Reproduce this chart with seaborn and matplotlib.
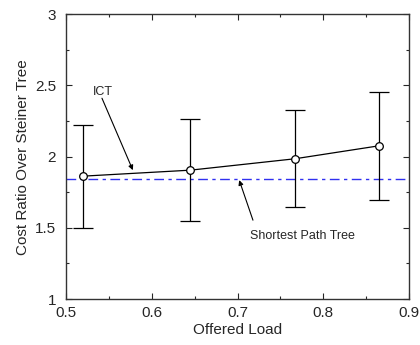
import matplotlib
matplotlib.use("Agg")
import matplotlib.pyplot as plt
import seaborn as sns
import pandas as pd
import numpy as np
from matplotlib.ticker import MultipleLocator

offered_load = [0.52, 0.645, 0.767, 0.865]
ict_ratio = [1.863, 1.905, 1.985, 2.076]
ict_upper = [2.223, 2.265, 2.326, 2.457]
ict_lower = [1.498, 1.547, 1.643, 1.693]
spt_ratio = 1.84

sns.set_style("ticks")
plt.rcParams['font.family'] = ['Liberation Sans', 'DejaVu Sans']

fig, ax = plt.subplots(figsize=(4.2, 3.45), dpi=100)
fig.subplots_adjust(left=0.157, right=0.974, top=0.959, bottom=0.133)

df = pd.DataFrame({"load": offered_load, "ratio": ict_ratio})
yerr = [np.array(ict_ratio) - np.array(ict_lower), np.array(ict_upper) - np.array(ict_ratio)]
ax.errorbar(offered_load, ict_ratio, yerr=yerr, fmt='none', ecolor='black',
            elinewidth=0.9, capsize=7.5, capthick=0.9, zorder=2)
sns.lineplot(data=df, x="load", y="ratio", ax=ax, color='black', linewidth=0.9,
             marker='o', markersize=5.5, markerfacecolor='white',
             markeredgecolor='black', markeredgewidth=0.9, zorder=3)
ax.axhline(spt_ratio, color='#3030f0', linestyle=(0, (7, 3.2, 2.4, 3.2)), linewidth=1.0, zorder=1)

arrow = dict(arrowstyle='-|>', color='black', lw=0.8, mutation_scale=7, shrinkA=0, shrinkB=0)
ax.text(0.543, 2.455, "ICT", fontsize=9, ha='center', va='center')
ax.annotate("", xy=(0.578, 1.905), xytext=(0.542, 2.41), arrowprops=arrow)
ax.text(0.776, 1.442, "Shortest Path Tree", fontsize=9, ha='center', va='center')
ax.annotate("", xy=(0.702, 1.835), xytext=(0.718, 1.554), arrowprops=arrow)

ax.set_xlim(0.5, 0.9)
ax.set_ylim(1, 3)
ax.xaxis.set_minor_locator(MultipleLocator(0.05))
ax.yaxis.set_minor_locator(MultipleLocator(0.25))
ax.set_xticks([0.5, 0.6, 0.7, 0.8, 0.9])
ax.set_xticklabels(["0.5", "0.6", "0.7", "0.8", "0.9"])
ax.set_yticks([1, 1.5, 2, 2.5, 3])
ax.set_yticklabels(["1", "1.5", "2", "2.5", "3"])
ax.tick_params(which='both', direction='in', top=True, right=True, labelsize=11)
ax.tick_params(axis='x', pad=5)
ax.tick_params(axis='y', pad=7)
ax.tick_params(which='major', length=4, width=0.8)
ax.tick_params(which='minor', length=2.5, width=0.8)
for s in ax.spines.values():
    s.set_linewidth(1.0)
    s.set_color('#333333')
ax.set_xlabel("Offered Load", fontsize=11, labelpad=2)
ax.set_ylabel("Cost Ratio Over Steiner Tree", fontsize=11, labelpad=4)

fig.savefig("out.png", dpi=100)
